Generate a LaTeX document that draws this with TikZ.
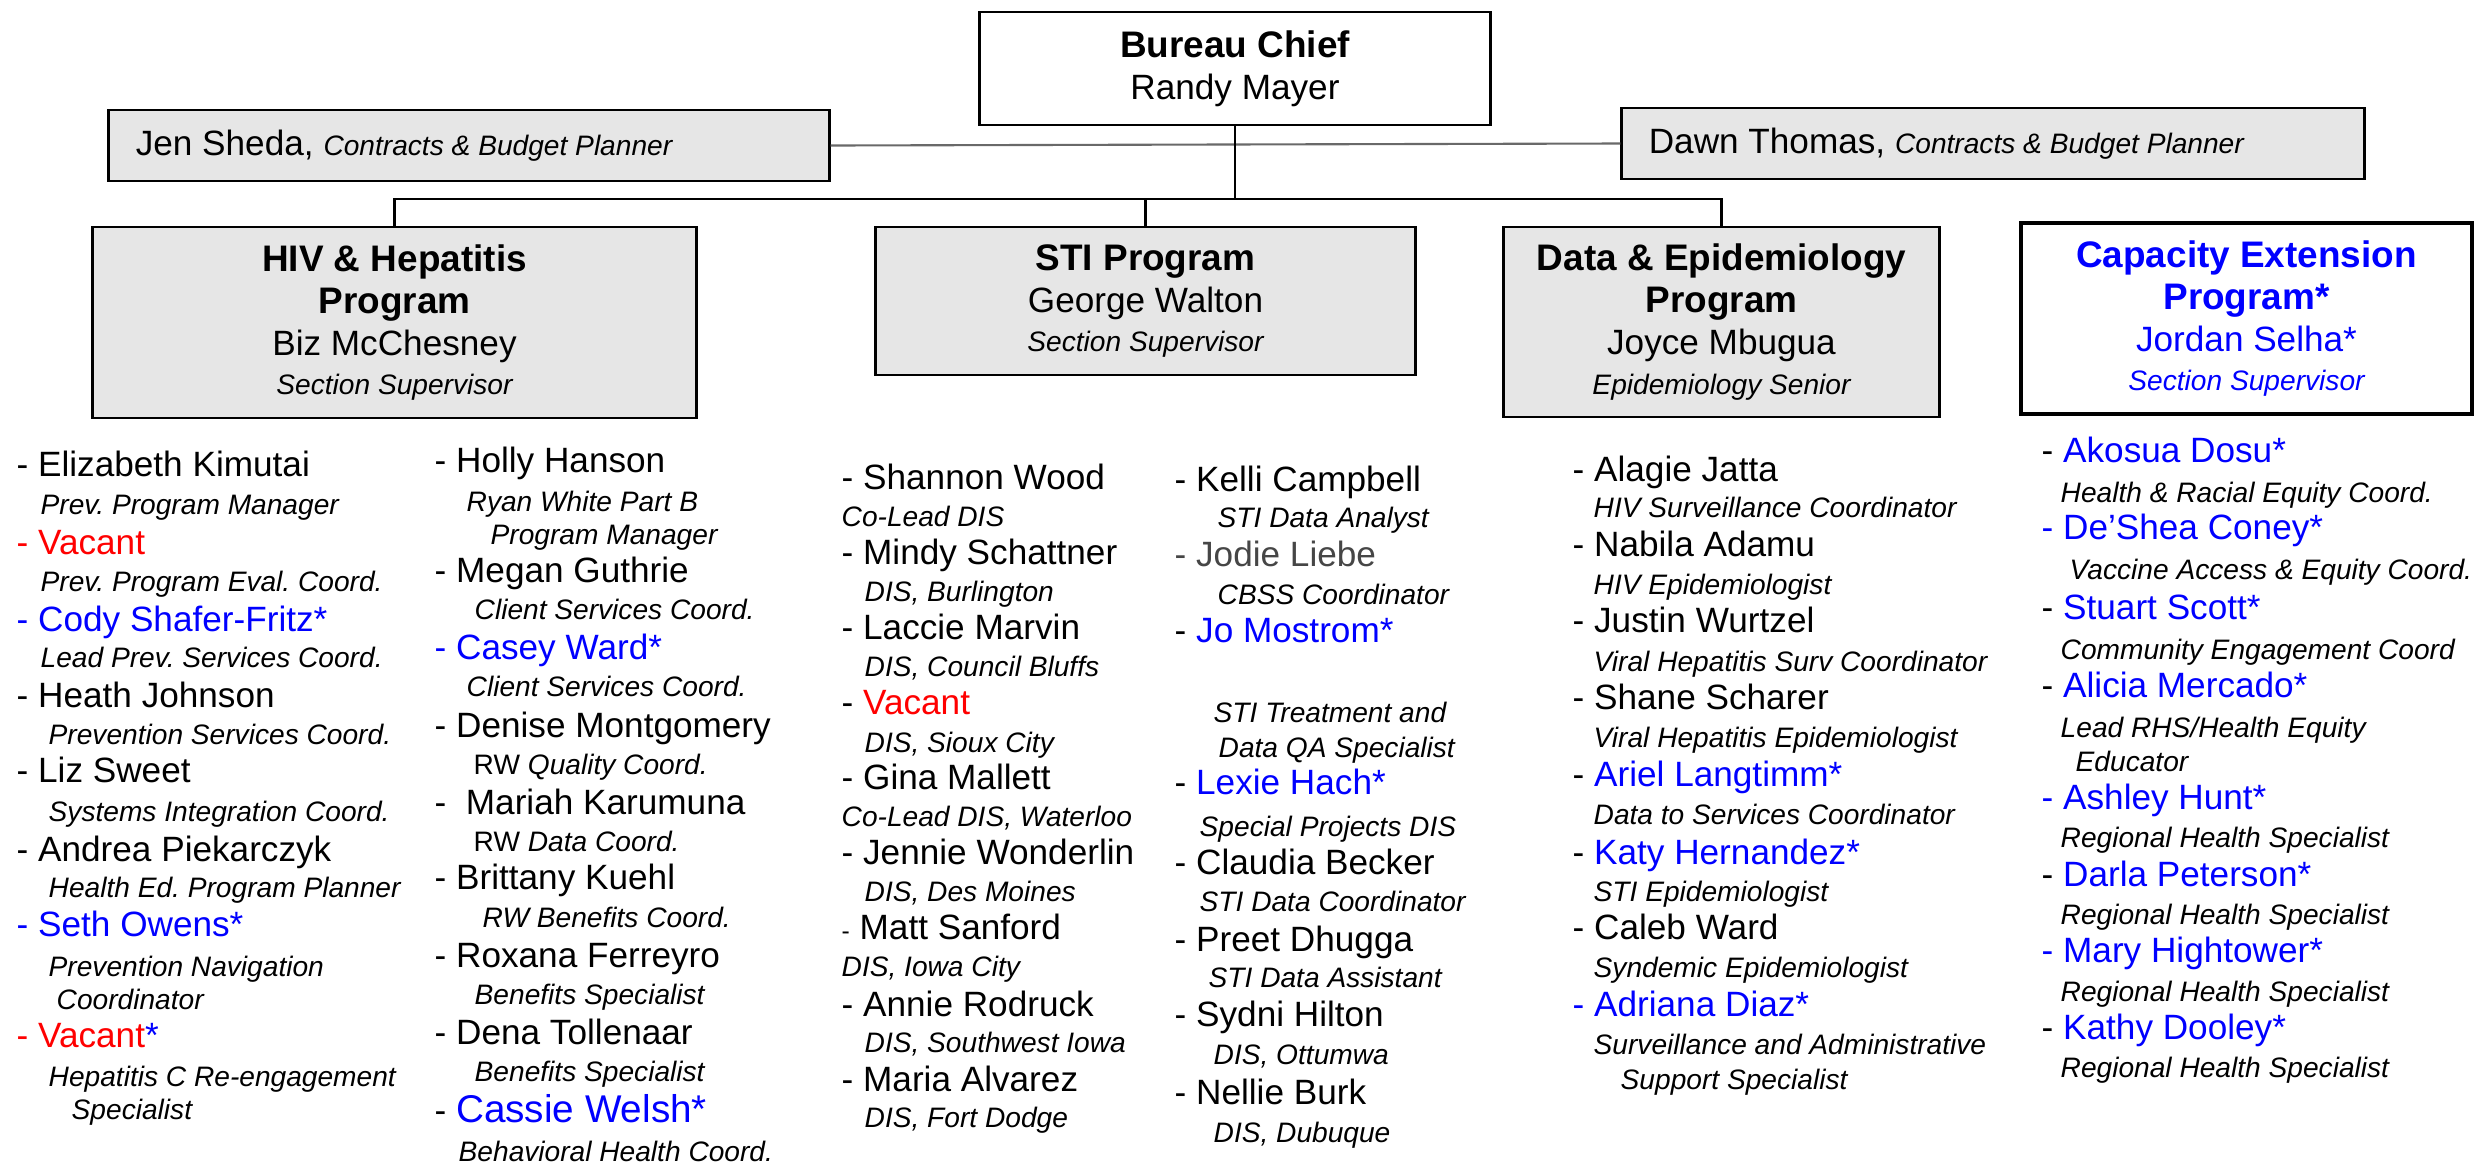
\documentclass[tikz,border=0pt]{standalone}
\usepackage{fontspec}
\setmainfont{Liberation Sans}
\usetikzlibrary{positioning}
\frenchspacing
\definecolor{staffblue}{RGB}{0, 0, 255}
\definecolor{vacantred}{RGB}{255, 0, 0}
\definecolor{boxgray}{RGB}{230, 230, 230}
\definecolor{linkgray}{RGB}{105, 105, 105}
\definecolor{formergray}{RGB}{70, 70, 70}
\newcommand{\boxhead}{\fontsize{10.5}{12}\selectfont\bfseries}
\newcommand{\boxrole}{\fontsize{8}{12}\selectfont\itshape}
\tikzset{
  box/.style={draw=black, fill=boxgray, line width=0.8pt, align=center, inner sep=0pt,
    font=\fontsize{10}{12}\selectfont},
  person/.style={anchor=mid west, inner sep=0pt, font=\fontsize{10}{12}\selectfont},
  duty/.style={anchor=mid west, inner sep=0pt, font=\fontsize{8}{10}\selectfont\itshape},
  link/.style={line width=0.6pt, draw=black},
}

\begin{document}
\begin{tikzpicture}[x=0.01cm, y=-0.01cm]
  \useasboundingbox (0,0) rectangle (2474,1163);

  % Bureau chief and planners
  \node[box, fill=white, minimum width=5.1cm, minimum height=1.13cm] (chief) at (1235,68.5)
    {{\boxhead Bureau Chief}\\Randy Mayer};
  \node[box, minimum height=0.71cm, text width=6.66cm, inner xsep=0.27cm, align=flush left] (jen) at (469,145.5)
    {Jen Sheda, {\boxrole Contracts \& Budget Planner}};
  \node[box, minimum height=0.71cm, text width=6.88cm, inner xsep=0.27cm, align=flush left] (dawn) at (1993,143.5)
    {Dawn Thomas, {\boxrole Contracts \& Budget Planner}};

  % Programs
  \node[box, minimum width=6.03cm, minimum height=1.91cm] (hiv) at (394.5,322.5)
    {{\boxhead HIV \& Hepatitis}\\{\boxhead Program}\\Biz McChesney\\[-1pt]{\boxrole Section Supervisor}};
  \node[box, minimum width=5.39cm, minimum height=1.48cm] (sti) at (1145.5,301)
    {{\boxhead STI Program}\\George Walton\\[-1pt]{\boxrole Section Supervisor}};
  \node[box, minimum width=4.35cm, minimum height=1.90cm] (data) at (1721.5,322)
    {{\boxhead Data \& Epidemiology}\\{\boxhead Program}\\Joyce Mbugua\\[-0.6pt]{\boxrole Epidemiology Senior}};
  \node[box, fill=white, line width=1pt, text=staffblue, minimum width=4.51cm, minimum height=1.91cm] (capacity) at (2246.5,318.5)
    {{\boxhead Capacity Extension}\\{\boxhead Program*}\\Jordan Selha*\\[-1pt]{\boxrole Section Supervisor}};

  % Connectors
  \coordinate (bus) at (1235,199);
  \draw[link, draw=linkgray] (jen.east) -- (dawn.west);
  \draw[link] (chief.south) -- (bus);
  \draw[link] (hiv.north) |- (bus) -| (data.north);
  \draw[link] (sti.north) -- (sti.north |- bus);

  % HIV & Hepatitis staff, left column
  \node[person] (a1) at (16,467) {- Elizabeth Kimutai};
  \node[duty] (a1t) at (40,505) {Prev. Program Manager};
  \node[person, text=vacantred] (a2) at (16,545) {- Vacant};
  \node[duty] (a2t) at (40,582) {Prev. Program Eval. Coord.};
  \node[person, text=staffblue] (a3) at (16,622) {- Cody Shafer-Fritz*};
  \node[duty] (a3t) at (40,658) {Lead Prev. Services Coord.};
  \node[person] (a4) at (16,698) {- Heath Johnson};
  \node[duty] (a4t) at (48,735) {Prevention Services Coord.};
  \node[person] (a5) at (16,773) {- Liz Sweet};
  \node[duty] (a5t) at (48,812) {Systems Integration Coord.};
  \node[person] (a6) at (16,852) {- Andrea Piekarczyk};
  \node[duty] (a6t) at (48,888) {Health Ed. Program Planner};
  \node[person, text=staffblue] (a7) at (16,927) {- Seth Owens*};
  \node[duty] (a7t) at (48,967) {Prevention Navigation};
  \node[duty] (a7u) at (56,1000) {Coordinator};
  \node[person, text=vacantred] (a8) at (16,1038) {- Vacant\textcolor{staffblue}{*}};
  \node[duty] (a8t) at (48,1077) {Hepatitis C Re-engagement};
  \node[duty] (a8u) at (71,1110) {Specialist};

  % HIV & Hepatitis staff, right column
  \node[person] (b1) at (434,463) {- Holly Hanson};
  \node[duty] (b1t) at (466,502) {Ryan White Part B};
  \node[duty] (b1u) at (490,535) {Program Manager};
  \node[person] (b2) at (434,573) {- Megan Guthrie};
  \node[duty] (b2t) at (474,610) {Client Services Coord.};
  \node[person, text=staffblue] (b3) at (434,650) {- Casey Ward*};
  \node[duty] (b3t) at (466,687) {Client Services Coord.};
  \node[person] (b4) at (434,728) {- Denise Montgomery};
  \node[duty] (b4t) at (473,765) {\textup{RW} Quality Coord.};
  \node[person] (b5) at (434,805) {-\ \ Mariah Karumuna};
  \node[duty] (b5t) at (473,842) {\textup{RW} Data Coord.};
  \node[person] (b6) at (434,880) {- Brittany Kuehl};
  \node[duty] (b6t) at (482,918) {RW Benefits Coord.};
  \node[person] (b7) at (434,958) {- Roxana Ferreyro};
  \node[duty] (b7t) at (474,995) {Benefits Specialist};
  \node[person] (b8) at (434,1035) {- Dena Tollenaar};
  \node[duty] (b8t) at (474,1072) {Benefits Specialist};
  \node[person] (b9) at (434,1113) {- {\fontsize{11}{12}\selectfont\textcolor{staffblue}{Cassie Welsh*}}};
  \node[duty] (b9t) at (458,1152) {Behavioral Health Coord.};

  % STI staff, left column
  \node[person] (c1) at (841,480) {- Shannon Wood};
  \node[duty] (c1t) at (841,517) {Co-Lead DIS};
  \node[person] (c2) at (841,555) {- Mindy Schattner};
  \node[duty] (c2t) at (864,592) {DIS, Burlington};
  \node[person] (c3) at (841,630) {- Laccie Marvin};
  \node[duty] (c3t) at (864,667) {DIS, Council Bluffs};
  \node[person] (c4) at (841,705) {- \textcolor{vacantred}{Vacant}};
  \node[duty] (c4t) at (864,743) {DIS, Sioux City};
  \node[person] (c5) at (841,780) {- Gina Mallett};
  \node[duty] (c5t) at (841,817) {Co-Lead DIS, Waterloo};
  \node[person] (c6) at (841,855) {- Jennie Wonderlin};
  \node[duty] (c6t) at (864,892) {DIS, Des Moines};
  \node[person] (c7) at (841,930) {{\fontsize{7}{8}\selectfont-} Matt Sanford};
  \node[duty] (c7t) at (841,967) {DIS, Iowa City};
  \node[person] (c8) at (841,1007) {- Annie Rodruck};
  \node[duty] (c8t) at (864,1043) {DIS, Southwest Iowa};
  \node[person] (c9) at (841,1082) {- Maria Alvarez};
  \node[duty] (c9t) at (864,1118) {DIS, Fort Dodge};

  % STI staff, right column
  \node[person] (d1) at (1174,482) {- Kelli Campbell};
  \node[duty] (d1t) at (1217,518) {STI Data Analyst};
  \node[person, text=formergray] (d2) at (1174,557) {- Jodie Liebe};
  \node[duty] (d2t) at (1217,595) {CBSS Coordinator};
  \node[person] (d3) at (1174,633) {- \textcolor{staffblue}{Jo Mostrom*}};
  \node[duty] (d3t) at (1213,713) {STI Treatment and};
  \node[duty] (d3u) at (1218,748) {Data QA Specialist};
  \node[person] (d4) at (1174,785) {- \textcolor{staffblue}{Lexie Hach*}};
  \node[duty] (d4t) at (1199,827) {Special Projects DIS};
  \node[person] (d5) at (1174,865) {- Claudia Becker};
  \node[duty] (d5t) at (1199,902) {STI Data Coordinator};
  \node[person] (d6) at (1174,942) {- Preet Dhugga};
  \node[duty] (d6t) at (1208,978) {STI Data Assistant};
  \node[person] (d7) at (1174,1017) {- Sydni Hilton};
  \node[duty] (d7t) at (1213,1055) {DIS, Ottumwa};
  \node[person] (d8) at (1174,1095) {- Nellie Burk};
  \node[duty] (d8t) at (1213,1133) {DIS, Dubuque};

  % Data & Epidemiology staff
  \node[person] (e1) at (1572,472) {- Alagie Jatta};
  \node[duty] (e1t) at (1593,508) {HIV Surveillance Coordinator};
  \node[person] (e2) at (1572,547) {- Nabila Adamu};
  \node[duty] (e2t) at (1593,585) {HIV Epidemiologist};
  \node[person] (e3) at (1572,623) {- Justin Wurtzel};
  \node[duty] (e3t) at (1593,662) {Viral Hepatitis Surv Coordinator};
  \node[person] (e4) at (1572,700) {- Shane Scharer};
  \node[duty] (e4t) at (1593,738) {Viral Hepatitis Epidemiologist};
  \node[person] (e5) at (1572,777) {- \textcolor{staffblue}{Ariel Langtimm*}};
  \node[duty] (e5t) at (1593,815) {Data to Services Coordinator};
  \node[person] (e6) at (1572,855) {- \textcolor{staffblue}{Katy Hernandez*}};
  \node[duty] (e6t) at (1593,892) {STI Epidemiologist};
  \node[person] (e7) at (1572,930) {- Caleb Ward};
  \node[duty] (e7t) at (1593,968) {Syndemic Epidemiologist};
  \node[person, text=staffblue] (e8) at (1572,1007) {- Adriana Diaz*};
  \node[duty] (e8t) at (1593,1045) {Surveillance and Administrative};
  \node[duty] (e8u) at (1620,1080) {Support Specialist};

  % Capacity Extension staff
  \node[person] (f1) at (2041,453) {- \textcolor{staffblue}{Akosua Dosu*}};
  \node[duty] (f1t) at (2060,493) {Health \& Racial Equity Coord.};
  \node[person, text=staffblue] (f2) at (2041,530) {- De’Shea Coney*};
  \node[duty] (f2t) at (2069,570) {Vaccine Access \& Equity Coord.};
  \node[person] (f3) at (2041,610) {- \textcolor{staffblue}{Stuart Scott*}};
  \node[duty] (f3t) at (2060,650) {Community Engagement Coord};
  \node[person] (f4) at (2041,688) {- \textcolor{staffblue}{Alicia Mercado*}};
  \node[duty] (f4t) at (2060,728) {Lead RHS/Health Equity};
  \node[duty] (f4u) at (2075,762) {Educator};
  \node[person, text=staffblue] (f5) at (2041,800) {- Ashley Hunt*};
  \node[duty] (f5t) at (2060,838) {Regional Health Specialist};
  \node[person] (f6) at (2041,877) {- \textcolor{staffblue}{Darla Peterson*}};
  \node[duty] (f6t) at (2060,915) {Regional Health Specialist};
  \node[person, text=staffblue] (f7) at (2041,953) {- Mary Hightower*};
  \node[duty] (f7t) at (2060,992) {Regional Health Specialist};
  \node[person] (f8) at (2041,1030) {- \textcolor{staffblue}{Kathy Dooley*}};
  \node[duty] (f8t) at (2060,1068) {Regional Health Specialist};
\end{tikzpicture}
\end{document}
